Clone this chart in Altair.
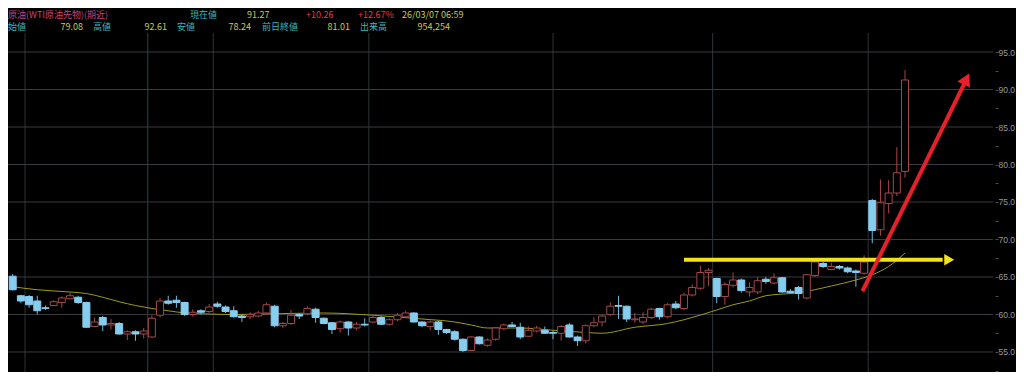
import altair as alt
import pandas as pd

# ---- candle data ----
opens = [65.1, 62.5, 62.4, 61.8, 60.9, 61.2, 61.6, 62.1, 62.3, 61.6,
         58.4, 59.6, 58.6, 58.8, 57.4, 57.7, 57.4, 57.0, 59.9, 61.8,
         61.9, 61.6, 60.0, 60.5, 60.4, 61.4, 61.0, 60.5, 59.8, 59.7,
         59.8, 60.2, 61.1, 58.5, 58.8, 60.0, 60.1, 60.7, 59.5, 58.9,
         58.1, 59.0, 58.2, 58.7, 59.0, 59.6, 58.7, 59.3, 59.7, 60.2,
         59.0, 58.4, 59.0, 58.0, 57.7, 56.7, 55.2, 57.0, 55.9, 56.7,
         58.1, 58.6, 58.3, 57.1, 57.8, 57.9, 57.6, 57.5, 58.6, 57.0,
         56.5, 58.5, 59.0, 60.0, 61.2, 61.1, 59.3, 59.0, 59.6, 60.8,
         59.7, 61.4, 60.8, 62.6, 63.5, 65.6, 64.8, 62.4, 63.9, 64.6,
         63.0, 63.0, 64.7, 64.2, 64.9, 63.1, 63.6, 62.2, 65.2, 66.8,
         66.0, 66.4, 66.2, 65.8, 65.5, 75.2, 71.3, 74.8, 76.2, 79.08]
highs = [65.4, 62.6, 62.6, 62.5, 61.2, 61.9, 62.4, 62.9, 62.5, 61.7,
         59.6, 59.8, 59.4, 59.0, 57.9, 57.9, 58.2, 59.9, 62.2, 62.5,
         62.5, 61.7, 60.7, 60.7, 61.4, 61.7, 61.2, 61.1, 60.0, 60.3,
         60.5, 61.6, 61.3, 59.0, 60.6, 60.2, 61.1, 60.9, 59.6, 59.0,
         59.2, 59.1, 59.0, 59.5, 60.0, 59.8, 59.5, 60.2, 60.5, 60.3,
         59.1, 59.2, 59.2, 58.1, 57.9, 56.8, 57.1, 57.1, 56.8, 58.3,
         58.8, 59.0, 58.9, 58.4, 58.5, 58.4, 57.8, 58.6, 58.9, 57.2,
         58.7, 59.6, 60.0, 61.6, 62.5, 61.2, 60.2, 60.3, 60.9, 60.9,
         61.5, 61.8, 62.9, 64.0, 66.5, 66.2, 64.9, 64.3, 65.6, 64.8,
         64.3, 65.0, 65.0, 65.5, 65.0, 63.4, 63.8, 65.4, 67.2, 67.0,
         66.9, 66.6, 66.4, 66.0, 67.9, 75.4, 78.0, 77.9, 82.3, 92.61]
lows = [63.2, 61.5, 60.9, 60.0, 60.6, 61.1, 60.9, 62.0, 61.4, 58.2,
        58.3, 57.8, 58.0, 57.3, 56.6, 56.5, 56.8, 56.9, 59.6, 61.3,
        60.9, 59.8, 59.7, 60.0, 60.2, 60.9, 60.2, 59.6, 59.0, 59.4,
        59.6, 60.0, 58.3, 58.2, 58.6, 59.4, 59.9, 58.9, 58.7, 57.4,
        57.6, 57.2, 57.9, 58.4, 58.8, 58.6, 58.5, 59.1, 59.5, 58.9,
        58.3, 57.9, 57.3, 57.4, 56.5, 55.0, 55.1, 56.0, 55.7, 56.5,
        57.9, 58.3, 56.7, 57.0, 57.6, 57.4, 56.7, 56.5, 56.9, 55.8,
        56.1, 58.3, 58.4, 59.8, 59.4, 59.0, 58.9, 58.7, 59.4, 59.3,
        59.5, 60.7, 60.6, 62.4, 63.3, 63.8, 61.5, 61.3, 63.6, 62.9,
        62.4, 62.7, 64.1, 64.0, 62.9, 62.8, 62.0, 62.0, 65.0, 66.2,
        65.9, 66.0, 65.5, 63.7, 65.3, 69.5, 70.5, 73.5, 75.8, 78.24]
closes = [63.3, 61.8, 61.3, 60.5, 60.8, 61.7, 62.2, 62.5, 61.6, 58.3,
          59.0, 58.6, 58.8, 57.4, 57.7, 57.4, 57.8, 59.5, 61.8, 61.5,
          61.6, 60.0, 60.3, 60.3, 61.0, 61.1, 60.4, 59.7, 59.6, 60.0,
          60.2, 61.3, 58.5, 58.8, 59.9, 59.8, 60.8, 59.6, 58.8, 58.0,
          59.0, 58.2, 58.7, 58.6, 59.6, 58.7, 59.3, 59.9, 60.2, 59.0,
          58.5, 59.0, 58.0, 57.6, 56.7, 55.2, 57.0, 56.1, 56.6, 58.2,
          58.6, 58.4, 57.0, 57.9, 58.2, 57.5, 57.5, 58.4, 57.0, 56.5,
          58.5, 58.9, 59.8, 61.1, 61.1, 59.4, 59.4, 59.6, 60.7, 59.7,
          61.3, 60.9, 62.6, 63.6, 65.6, 65.9, 62.4, 64.0, 64.6, 63.2,
          63.6, 64.5, 64.4, 64.9, 63.0, 62.9, 62.8, 65.3, 67.0, 66.4,
          66.4, 66.2, 65.7, 65.6, 67.0, 71.2, 74.9, 76.2, 78.9, 91.27]

# moving-average line, points read at some candle positions
ma_idx = [0, 3, 7, 9, 11, 13, 15, 17, 19, 21, 23, 27, 32, 38, 44, 50, 54, 56,
          58, 62, 66, 70, 72, 76, 80, 82, 86, 88, 90, 92, 96, 100, 103, 105, 107, 109]
ma_val = [63.7, 63.3, 63.0, 62.8, 62.3, 61.7, 61.2, 60.8, 60.5, 60.2, 60.1, 60.0,
          60.1, 60.2, 59.9, 59.4, 59.0, 58.6, 58.2, 58.2, 57.9, 57.6, 57.5, 58.3,
          58.8, 59.3, 60.6, 61.3, 61.8, 62.5, 62.9, 63.8, 64.6, 65.3, 66.4, 68.2]

# vertical separators (between candles)
vline_pos = [1.5, 16.5, 24.5, 43.5, 66.0, 85.5, 104.5]
grid_vals = [55, 60, 65, 70, 75, 80, 85, 90, 95]
tick_vals = [52.5, 55, 57.5, 60, 62.5, 65, 67.5, 70, 72.5, 75, 77.5, 80,
             82.5, 85, 87.5, 90, 92.5, 95]

# hand-drawn arrows (in data space: candle index, price)
yellow_x = [82.0, 113.6]
yellow_y = [67.3, 67.3]
yellow_head = (114.4, 67.3)
red_x = [103.8, 116.3]
red_y = [63.1, 90.9]
red_head = (116.5, 91.4)

# header texts
row1 = ["原油(WTI原油先物)(期近)", "現在値", "91.27", "+10.26", "+12.67%", "26/03/07 06:59"]
row2 = ["始値", "79.08", "高値", "92.61", "安値", "78.24", "前日終値", "81.01", "出来高", "954,254"]

# ---------------------------------------------------------------
W, H = 987, 364
xscale = alt.Scale(domain=[0.036, 119.383], nice=False, zero=False)
yscale = alt.Scale(domain=[52.333, 100.867], nice=False, zero=False)
YAXIS = alt.Axis(orient="right", values=tick_vals,
                 labelExpr="datum.value % 5 === 0 ? format(datum.value, '.1f') : ''",
                 grid=False, domain=False, tickSize=3, tickColor="#4a4a4a",
                 labelColor="#9a9a9a", labelFontSize=8.5, labelFont="Liberation Sans",
                 labelPadding=0, title=None, labelOverlap=False)

df = pd.DataFrame({"i": list(range(len(opens))), "open": opens, "high": highs,
                   "low": lows, "close": closes})
ma_df = pd.DataFrame({"i": ma_idx, "v": ma_val})
vg_df = pd.DataFrame({"x": vline_pos})
hg_df = pd.DataFrame({"v": grid_vals})

UP = "#a3474a"
DOWN = "#86cdef"
up_test = "datum.close >= datum.open"

X = lambda f: alt.X(f, scale=xscale, axis=None)
Y = lambda f: alt.Y(f, scale=yscale, axis=YAXIS)

vgrid = alt.Chart(vg_df).mark_rule(strokeWidth=1).encode(
    x=X("x:Q"), y=alt.value(25), y2=alt.value(H),
    color=alt.condition("datum.x == 16.5", alt.value("#1f4c4c"), alt.value("#2c3336")),
)

hgrid = alt.Chart(hg_df).mark_rule(strokeWidth=1, color="#3a3b40").encode(
    y=Y("v:Q"), x=alt.value(0), x2=alt.value(W - 2),
)

ma = alt.Chart(ma_df).mark_line(color="#9c9a1e", strokeWidth=1, interpolate="monotone").encode(
    x=X("i:Q"), y=Y("v:Q"))

base = alt.Chart(df)
wicks = base.mark_rule(strokeWidth=1).encode(
    x=X("i:Q"), y=Y("low:Q"), y2="high:Q",
    color=alt.condition(up_test, alt.value(UP), alt.value("#6fb9dc")),
)
bodies = base.mark_bar(size=7, strokeWidth=1).encode(
    x=X("i:Q"), y=Y("open:Q"), y2="close:Q",
    fill=alt.condition(up_test, alt.value("#000000"), alt.value(DOWN)),
    stroke=alt.condition(up_test, alt.value(UP), alt.value(DOWN)),
)

yel_df = pd.DataFrame({"x": yellow_x, "y": yellow_y})
yel_line = alt.Chart(yel_df).mark_line(color="#f2e31b", strokeWidth=4).encode(
    x=X("x:Q"), y=Y("y:Q"))
yel_head = alt.Chart(pd.DataFrame({"x": [yellow_head[0]], "y": [yellow_head[1]]})).mark_point(
    shape="triangle-right", filled=True, color="#f2e31b", size=130, opacity=1).encode(
    x=X("x:Q"), y=Y("y:Q"))

red_df = pd.DataFrame({"x": red_x, "y": red_y})
red_line = alt.Chart(red_df).mark_line(color="#e8202a", strokeWidth=4).encode(
    x=X("x:Q"), y=Y("y:Q"))
red_headc = alt.Chart(pd.DataFrame({"x": [red_head[0]], "y": [red_head[1]]})).mark_point(
    shape="triangle-up", filled=True, color="#e8202a", size=200, angle=26, opacity=1).encode(
    x=X("x:Q"), y=Y("y:Q"))

FONT = "Noto Sans CJK JP"
TEAL = "#3db4bd"
YEL = "#c9c85a"
RED = "#e63a3f"
PINK = "#c7437b"

def txt(s, x, y, color, align="left"):
    return alt.Chart(pd.DataFrame({"t": [s]})).mark_text(
        align=align, baseline="middle", font=FONT, fontSize=9, color=color).encode(
        text="t:N", x=alt.value(x), y=alt.value(y))

r1y, r2y = 7, 19
row1_layout = [(0, PINK, "left"), (182, TEAL, "left"), (239, YEL, "left"),
               (298, RED, "left"), (350, RED, "left"), (394, YEL, "left")]
row2_layout = [(0, TEAL, "left"), (75, YEL, "right"), (85, TEAL, "left"), (159, YEL, "right"),
               (169, TEAL, "left"), (243, YEL, "right"), (254, TEAL, "left"), (342, YEL, "right"),
               (352, TEAL, "left"), (442, YEL, "right")]
texts = [txt(s, lx, r1y, c, a) for s, (lx, c, a) in zip(row1, row1_layout)]
texts += [txt(s, lx, r2y, c, a) for s, (lx, c, a) in zip(row2, row2_layout)]

chart = alt.layer(
    vgrid, hgrid, ma, wicks, bodies, yel_line, yel_head, red_line, red_headc, *texts
).properties(
    width=W, height=H,
    autosize=alt.AutoSizeParams(type="none"),
    padding={"left": 0, "top": 0, "right": 21, "bottom": 0},
    background="#000000",
).configure_view(stroke=None)

chart.save("out.html", embed_options={"renderer": "svg", "actions": False})
